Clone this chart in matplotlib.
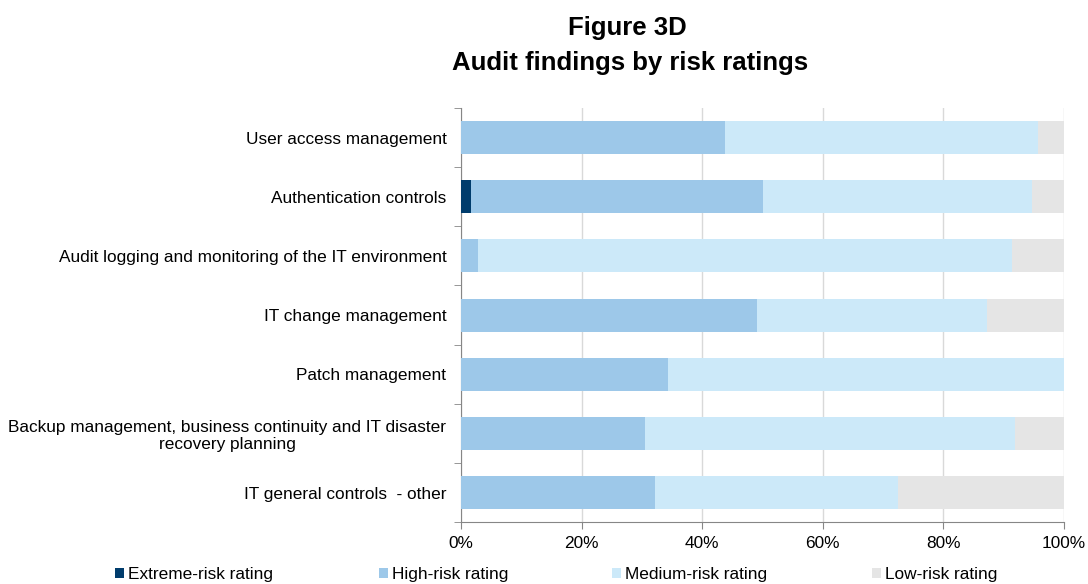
import matplotlib
matplotlib.use('Agg')
import matplotlib.pyplot as plt
import matplotlib.ticker as mticker
import numpy as np

plt.rcParams['font.family'] = ['Liberation Sans', 'DejaVu Sans']

categories = [
    'User access management',
    'Authentication controls',
    'Audit logging and monitoring of the IT environment',
    'IT change management',
    'Patch management',
    'Backup management, business continuity and IT disaster\nrecovery planning',
    'IT general controls  - other',
]
extreme = [0.0, 1.7, 0.0, 0.0, 0.0, 0.0, 0.0]
high = [43.7, 48.4, 2.9, 49.1, 34.3, 30.5, 32.1]
medium = [52.0, 44.6, 88.4, 38.2, 65.7, 61.3, 40.3]
low = [4.3, 5.3, 8.7, 12.7, 0.0, 8.2, 27.6]

series = [
    ('Extreme-risk rating', extreme, '#003C6C'),
    ('High-risk rating', high, '#9DC8E9'),
    ('Medium-risk rating', medium, '#CCE9F9'),
    ('Low-risk rating', low, '#E5E5E5'),
]

fs = 12.4

fig = plt.figure(figsize=(10.88, 5.84), dpi=100)
ax = fig.add_axes([0.4237, 0.106, 0.5543, 0.709])

y = np.arange(len(categories))
left = np.zeros(len(categories))
handles = []
for name, vals, color in series:
    vals = np.array(vals)
    b = ax.barh(y, vals, left=left, height=0.56, color=color, label=name, zorder=3)
    handles.append(b)
    left += vals

ax.set_xlim(0, 100)
ax.set_ylim(len(categories) - 0.5, -0.5)
ax.xaxis.set_major_locator(mticker.MultipleLocator(20))
ax.xaxis.set_major_formatter(mticker.FuncFormatter(lambda v, p: f'{v:.0f}%'))
ax.grid(axis='x', color='#D9D9D9', linewidth=1, zorder=0)

# category labels without ticks, tick marks on the boundaries between bars
ax.set_yticks(y)
ax.set_yticklabels(categories, fontsize=fs, multialignment='center')
ax.tick_params(axis='y', length=0, pad=10.5)
ax.set_yticks(np.arange(-0.5, len(categories), 1), minor=True)
ax.tick_params(axis='y', which='minor', length=5, color='#868686', direction='out')
ax.tick_params(axis='x', length=5, color='#868686', labelsize=fs, pad=5)

for side in ['top', 'right']:
    ax.spines[side].set_visible(False)
for side in ['left', 'bottom']:
    ax.spines[side].set_color('#868686')

fig.text(0.577, 0.940, 'Figure 3D', ha='center', va='baseline',
         fontsize=18.5, fontweight='bold')
fig.text(0.579, 0.880, 'Audit findings by risk ratings', ha='center', va='baseline',
         fontsize=18.5, fontweight='bold')

# one legend per entry so the slots are evenly spaced
legend_x = [0.1057, 0.3483, 0.5625, 0.8015]
for h, lx in zip(handles, legend_x):
    fig.legend([h], [h.get_label()], loc='lower left', bbox_to_anchor=(lx, 0.004),
               frameon=False, fontsize=fs, handlelength=0.52, handleheight=0.52,
               handletextpad=0.25, borderaxespad=0, borderpad=0)

fig.savefig('out.png', dpi=100)
